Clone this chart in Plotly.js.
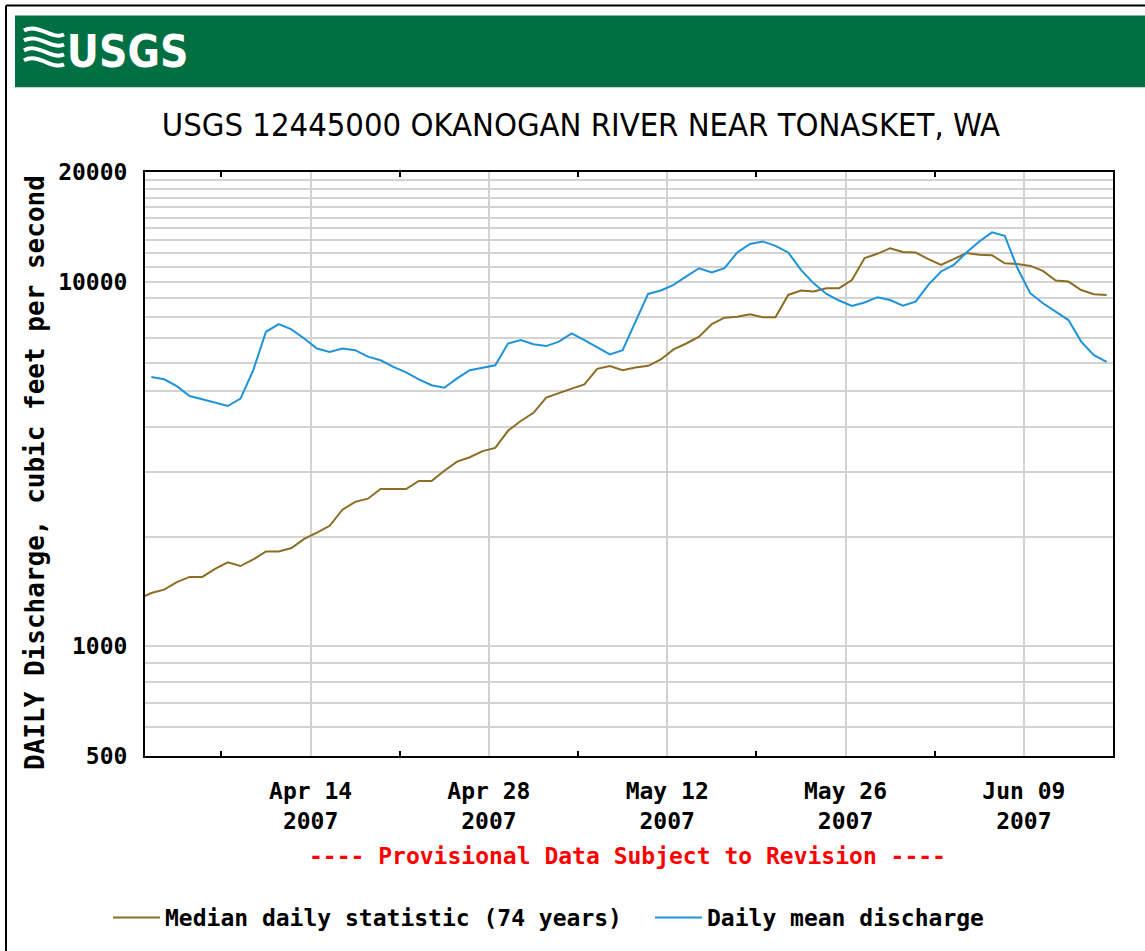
<!DOCTYPE html>
<html>
<head>
<meta charset="utf-8">
<script src="https://cdn.plot.ly/plotly-3.0.1.min.js"></script>
<style>
html,body{margin:0;padding:0;background:#fff;}
#chart{width:1145px;height:951px;}
#chart .gtitle, #chart .annotation-text{font-stretch:condensed;}
</style>
</head>
<body>
<div id="chart"></div>
<script>
// ---- data ----
var medianStart = '2007-03-31';
var medianValues = [1350,
  1400,1430,1500,1550,1550,1630,1700,1660,1730,1820,1820,1860,1970,2050,2140,2370,2490,2540,2700,
  2700,2700,2840,2840,3030,3210,3300,3430,3500,3900,4150,4370,4810,4960,5090,5230,5770,5870,5720,5820,
  5880,6120,6520,6770,7070,7650,7970,8020,8140,7990,7990,9200,9460,9400,9600,9600,10110,11610,11930,12360,
  12060,12030,11530,11120,11530,11980,11850,11830,11240,11190,11050,10710,10080,10010,9490,9240,9200];
var dailyStart = '2007-04-01';
var dailyValues = [5480,5400,5170,4860,4760,4660,4560,4780,5720,7290,7650,7400,6990,6560,6420,6560,6490,6230,6090,
  5840,5640,5400,5200,5120,5430,5720,5810,5900,6770,6920,6740,6660,6850,7220,6920,6600,6320,6490,7770,
  9260,9460,9800,10340,10890,10600,10890,12030,12700,12900,12540,12030,10780,9900,9260,8880,8580,8770,9070,
  8910,8600,8820,9800,10670,11120,12030,12900,13660,13370,10890,9300,8730,8280,7850,6850,6290,6030];
var xTickVals = ['2007-04-14','2007-04-28','2007-05-12','2007-05-26','2007-06-09'];
var xTickText = ['Apr 14<br>2007','Apr 28<br>2007','May 12<br>2007','May 26<br>2007','Jun 09<br>2007'];
var xMinorVals = ['2007-04-07','2007-04-21','2007-05-05','2007-05-19','2007-06-02'];
var yGridVals = [500,600,700,800,900,1000,2000,3000,4000,5000,6000,7000,8000,9000,10000,
  11000,12000,13000,14000,15000,16000,17000,18000,19000,20000];
var yLabelVals = [500,1000,10000,20000];
var seriesNames = ['Median daily statistic (74 years)','Daily mean discharge'];
var titleText = 'USGS 12445000 OKANOGAN RIVER NEAR TONASKET, WA';
var yTitleText = 'DAILY Discharge, cubic feet per second';
var provisionalText = '---- Provisional Data Subject to Revision ----';

function dayList(start, n) {
  var out = [], t0 = Date.parse(start + 'T12:00:00Z');
  for (var i = 0; i < n; i++) {
    var d = new Date(t0 + i * 86400000);
    out.push(d.toISOString().slice(0, 10) + ' 12:00');
  }
  return out;
}
var medianDates = dayList(medianStart, medianValues.length);
var dailyDates = dayList(dailyStart, dailyValues.length);
var yTickText = yGridVals.map(function (v) { return yLabelVals.indexOf(v) >= 0 ? String(v) : ''; });

// ---- layout helpers (pixel -> paper) ----
var W = 1145, H = 951, L = 145, R = 1113, T = 172, B = 758;
function px(x) { return (x - L) / (R - L); }
function py(y) { return (B - y) / (B - T); }
function P(x, y) { return px(x).toFixed(5) + ',' + py(y).toFixed(5); }

var mono = {family: 'DejaVu Sans Mono, Liberation Mono, monospace', size: 23, weight: 'bold', color: '#000'};

var traces = [
  {x: medianDates, y: medianValues, name: seriesNames[0], type: 'scatter', mode: 'lines',
   line: {color: '#8C6D23', width: 2}, legend: 'legend'},
  {x: dailyDates, y: dailyValues, name: seriesNames[1], type: 'scatter', mode: 'lines',
   line: {color: '#1E93DA', width: 2}, legend: 'legend2'}
];

var waves = [];
[34, 44, 54, 64].forEach(function (yy) {
  waves.push({type: 'path', xref: 'paper', yref: 'paper', layer: 'above',
    path: 'M' + P(24, yy - 4) + ' C' + P(38, yy - 12) + ' ' + P(52, yy + 6) + ' ' + P(64, yy),
    line: {color: '#fff', width: 4}});
});

var legendCommon = {orientation: 'h', xanchor: 'left', yanchor: 'middle', y: py(920),
  font: mono, bgcolor: 'rgba(0,0,0,0)', borderwidth: 0, itemwidth: 47};

var layout = {
  width: W, height: H,
  margin: {l: L, r: W - R, t: T, b: H - B, pad: 0},
  paper_bgcolor: '#fff', plot_bgcolor: '#fff',
  showlegend: true,
  title: {text: titleText, xref: 'container', yref: 'container', x: 581 / W, xanchor: 'center',
    y: 1 - 125 / H, yanchor: 'middle',
    font: {family: 'DejaVu Sans, Liberation Sans, sans-serif', size: 32.5, color: '#000'}},
  xaxis: {type: 'date', range: ['2007-04-01', '2007-06-16'],
    tickmode: 'array', tickvals: xTickVals, ticktext: xTickText, ticks: '',
    tickfont: mono, ticklabelstandoff: 13,
    showgrid: true, gridcolor: '#d3d3d3', gridwidth: 2,
    showline: true, linecolor: '#000', linewidth: 2, mirror: 'ticks',
    minor: {tickvals: xMinorVals, ticks: 'inside', ticklen: 5, tickwidth: 2, tickcolor: '#000', showgrid: false},
    zeroline: false, fixedrange: true},
  yaxis: {type: 'log', range: [Math.log10(500), Math.log10(20000)],
    tickmode: 'array', tickvals: yGridVals, ticktext: yTickText, ticks: '',
    tickfont: mono, ticklabelstandoff: 11,
    showgrid: true, gridcolor: '#d3d3d3', gridwidth: 2,
    showline: true, linecolor: '#000', linewidth: 2, mirror: true,
    zeroline: false, fixedrange: true},
  legend: Object.assign({}, legendCommon, {x: px(108)}),
  legend2: Object.assign({}, legendCommon, {x: px(650)}),
  shapes: [
    {type: 'rect', xref: 'paper', yref: 'paper', x0: px(15), x1: px(1150), y0: py(87), y1: py(15),
     fillcolor: '#006F41', line: {width: 0}, layer: 'below'},
    {type: 'line', xref: 'paper', yref: 'paper', x0: px(6), x1: px(6), y0: py(5), y1: py(960),
     line: {color: '#000', width: 2}},
    {type: 'line', xref: 'paper', yref: 'paper', x0: px(6), x1: px(1150), y0: py(5), y1: py(5),
     line: {color: '#000', width: 2}}
  ].concat(waves),
  annotations: [
    {text: 'USGS', xref: 'paper', yref: 'paper', x: px(58), y: py(51), xanchor: 'left', yanchor: 'middle',
     showarrow: false, font: {family: 'DejaVu Sans, Liberation Sans, sans-serif', size: 44, weight: 'bold', color: '#fff'}},
    {text: yTitleText, xref: 'paper', yref: 'paper', x: px(35), y: py(474), xanchor: 'center', yanchor: 'middle',
     textangle: -90, showarrow: false, font: {family: mono.family, size: 26, weight: 'bold', color: '#000'}},
    {text: provisionalText, xref: 'paper', yref: 'paper', x: px(627), y: py(858), xanchor: 'center', yanchor: 'middle',
     showarrow: false, font: {family: mono.family, size: 23, weight: 'bold', color: '#FF0000'}}
  ]
};

Plotly.newPlot('chart', traces, layout, {displayModeBar: false, staticPlot: true});
</script>
</body>
</html>
